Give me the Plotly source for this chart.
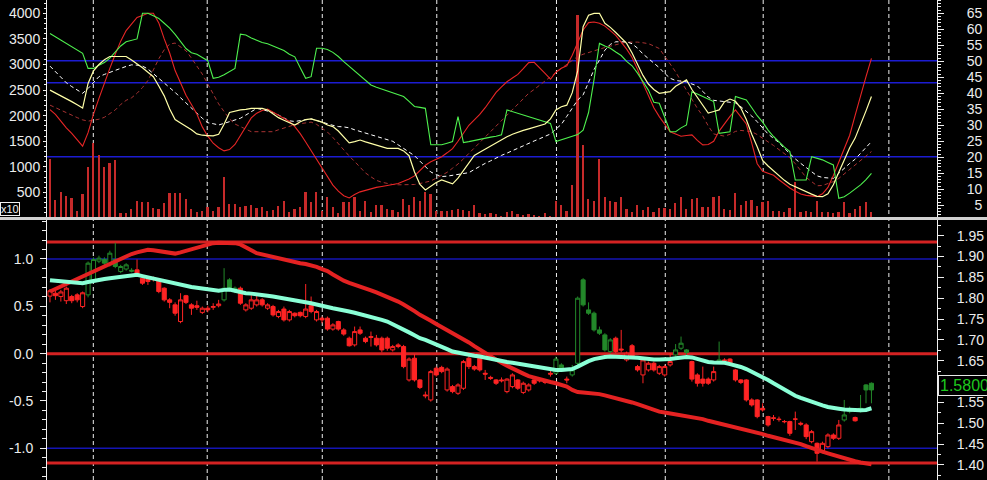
import plotly.graph_objects as go

# ---------------- data ----------------
days = list(range(152))

volume = [1154, 359, 502, 424, 385, 143, 469, 991, 1460, 1239,
          991, 1076, 1134, 104, 104, 176, 339, 306, 306, 196,
          176, 287, 489, 489, 489, 372, 176, 111, 143, 222,
          143, 209, 808, 274, 274, 222, 241, 261, 189, 209,
          143, 156, 241, 339, 111, 176, 209, 502, 306, 515,
          143, 404, 222, 98, 306, 306, 404, 143, 326, 124,
          261, 261, 176, 163, 124, 372, 261, 404, 339, 502,
          469, 143, 143, 130, 156, 176, 163, 143, 261, 91,
          78, 91, 78, 46, 111, 143, 78, 59, 78, 65,
          46, 91, 26, 339, 261, 130, 652, 3967, 1425, 372,
          339, 1145, 404, 339, 306, 404, 176, 111, 261, 156,
          222, 111, 196, 196, 176, 287, 417, 176, 372, 391,
          222, 222, 417, 437, 176, 156, 482, 261, 339, 352,
          241, 306, 326, 143, 143, 111, 196, 700, 111, 143,
          111, 339, 111, 111, 91, 111, 306, 91, 176, 241,
          306, 111]

osc_green = [58.7, 57.7, 56.7, 55.7, 54.6, 53.6, 52.5, 47.8, 47.8, 48.8,
             49.6, 51.0, 53.0, 54.8, 56.1, 56.5, 57.0, 65.0, 65.0, 64.2,
             63.4, 61.9, 60.4, 58.4, 56.0, 54.0, 52.7, 52.2, 51.2, 50.2,
             44.7, 45.0, 45.8, 46.8, 47.8, 58.5, 58.2, 57.3, 56.6, 55.9,
             55.5, 54.8, 54.1, 53.4, 52.2, 51.4, 48.0, 44.7, 45.2, 54.1,
             54.1, 53.7, 52.8, 51.5, 49.9, 48.5, 47.0, 45.5, 44.0, 42.6,
             41.9, 41.3, 40.6, 40.0, 39.6, 39.0, 37.5, 35.9, 35.6, 35.3,
             23.9, 23.9, 23.9, 24.4, 24.9, 32.7, 24.6, 24.9, 25.3, 25.6,
             25.9, 26.3, 26.6, 27.0, 34.8, 34.3, 33.7, 33.2, 32.7, 32.1,
             31.6, 31.1, 30.6, 24.9, 25.4, 26.0, 26.5, 27.1, 28.5, 34.0,
             44.2, 55.6, 54.8, 54.1, 52.9, 51.8, 50.0, 48.6, 46.3, 43.6,
             41.0, 37.2, 36.9, 32.5, 28.0, 28.0, 29.2, 30.1, 40.5, 39.8,
             39.0, 38.2, 37.4, 27.5, 27.8, 28.0, 39.0, 38.4, 37.9, 35.5,
             33.0, 31.0, 28.5, 26.5, 24.8, 23.2, 21.8, 12.9, 12.9, 12.9,
             20.2, 19.8, 19.2, 18.4, 17.6, 7.2, 7.7, 8.8, 10.0, 11.4,
             13.0, 15.0]

osc_yellow = [41.0, 40.1, 39.3, 38.5, 37.4, 36.4, 35.4, 43.1, 47.0, 49.0,
              50.5, 51.5, 51.5, 51.5, 51.5, 50.4, 49.3, 48.0, 46.6, 45.2,
              42.3, 39.2, 35.1, 31.8, 30.7, 29.7, 28.6, 27.3, 26.9, 26.8,
              26.7, 27.2, 30.3, 34.0, 34.5, 34.8, 35.0, 35.3, 35.3, 35.3,
              34.8, 33.6, 32.4, 31.6, 30.8, 30.1, 31.1, 31.8, 32.0, 31.4,
              31.0, 30.1, 29.6, 28.2, 26.2, 24.5, 24.9, 25.4, 24.8, 24.3,
              23.7, 23.2, 22.8, 22.8, 22.8, 22.0, 20.5, 15.4, 11.5, 9.8,
              10.9, 12.1, 12.9, 12.3, 11.7, 13.5, 16.0, 18.3, 20.6, 21.6,
              22.6, 23.6, 24.6, 25.6, 26.4, 27.2, 27.9, 28.4, 28.9, 29.4,
              29.9, 30.4, 32.0, 34.8, 35.8, 36.3, 40.2, 47.0, 60.8, 64.4,
              65.0, 65.0, 61.9, 60.6, 59.0, 57.3, 55.6, 52.6, 48.9, 45.6,
              42.9, 41.2, 40.0, 40.3, 40.5, 42.2, 43.3, 44.2, 41.2, 38.6,
              36.3, 33.8, 34.3, 34.8, 37.4, 38.2, 37.5, 35.4, 31.8, 27.2,
              23.3, 19.0, 17.3, 15.7, 14.2, 12.8, 11.6, 10.8, 9.9, 9.2,
              8.5, 7.8, 7.7, 8.6, 11.4, 15.3, 19.0, 23.0, 26.0, 30.0,
              34.5, 39.0]

osc_white = [48.5, 46.8, 45.1, 43.3, 42.1, 41.0, 40.0, 41.5, 43.5, 45.2,
             45.9, 46.6, 47.3, 47.8, 48.4, 48.9, 48.8, 48.5, 47.6, 46.2,
             44.7, 43.3, 41.8, 40.3, 38.6, 36.9, 35.4, 33.8, 32.2, 30.8,
             30.5, 30.1, 30.6, 31.2, 31.7, 32.2, 33.2, 34.3, 35.3, 34.9,
             34.5, 34.0, 33.2, 32.3, 31.4, 31.2, 31.5, 31.9, 32.0, 31.5,
             30.9, 30.5, 30.0, 29.6, 29.5, 29.2, 28.6, 28.1, 27.6, 27.1,
             26.4, 25.9, 25.5, 25.0, 23.9, 22.8, 21.7, 20.5, 18.8, 17.1,
             15.4, 14.6, 14.0, 14.1, 14.4, 14.7, 14.9, 15.2, 16.2, 17.2,
             18.1, 18.9, 19.8, 20.6, 21.3, 22.1, 22.9, 23.6, 24.4, 25.1,
             25.8, 26.5, 27.3, 28.8, 30.3, 32.8, 35.4, 37.9, 39.5, 43.7,
             47.4, 50.4, 53.5, 55.3, 56.1, 56.1, 56.1, 55.5, 54.1, 52.3,
             50.9, 49.5, 48.0, 46.2, 44.7, 44.0, 43.8, 43.6, 42.9, 42.3,
             40.6, 38.8, 37.8, 37.6, 37.4, 37.2, 37.0, 35.8, 34.4, 32.9,
             31.1, 29.1, 27.3, 25.9, 24.6, 22.8, 21.0, 19.5, 18.1, 16.7,
             15.4, 14.2, 13.7, 13.5, 13.4, 15.0, 16.6, 18.1, 19.4, 21.2,
             23.0, 24.9]

osc_red = [34.9, 33.4, 31.3, 29.2, 27.5, 25.5, 23.5, 27.7, 33.5, 38.4,
           43.4, 47.8, 52.2, 56.3, 59.6, 61.6, 63.7, 64.3, 65.0, 65.0,
           62.0, 57.0, 52.6, 47.1, 43.4, 39.4, 36.5, 33.5, 29.5, 26.6,
           24.4, 23.0, 22.0, 22.4, 24.0, 26.8, 29.7, 32.3, 33.8, 34.6,
           35.1, 34.1, 33.3, 32.3, 31.2, 29.6, 27.4, 24.8, 22.1, 19.3,
           16.4, 13.6, 11.3, 9.4, 8.0, 7.3, 8.4, 9.2, 9.7, 10.2,
           10.6, 10.9, 11.2, 11.4, 11.8, 12.5, 13.2, 14.2, 15.8, 17.5,
           18.6, 19.5, 20.2, 21.4, 22.7, 25.0, 27.6, 30.0, 31.7, 33.4,
           35.5, 38.0, 40.3, 42.0, 43.6, 44.8, 45.9, 47.7, 49.6, 49.7,
           48.1, 46.2, 44.4, 46.6, 47.8, 48.6, 51.9, 55.8, 59.8, 62.1,
           62.3, 61.9, 61.0, 59.6, 58.1, 56.0, 53.8, 51.2, 47.5, 43.1,
           39.3, 35.5, 32.7, 30.4, 28.0, 27.3, 26.6, 26.8, 27.0, 25.3,
           23.9, 24.0, 25.0, 28.2, 30.6, 32.8, 34.8, 32.7, 30.4, 24.4,
           18.0, 15.6, 15.0, 14.4, 13.0, 11.6, 10.4, 9.4, 8.5, 8.1,
           7.8, 7.7, 8.6, 10.6, 14.3, 18.4, 22.6, 26.9, 33.1, 39.6,
           45.2, 50.9]

osc_red_slow = [36.3, 35.5, 34.6, 33.9, 33.1, 32.4, 31.7, 31.3, 31.6, 31.9,
                32.5, 33.6, 34.8, 36.5, 37.8, 38.6, 40.0, 41.8, 44.0, 47.3,
                50.8, 53.6, 55.4, 55.7, 54.6, 53.3, 51.0, 48.6, 46.0, 42.9,
                39.8, 36.7, 34.3, 32.0, 30.4, 29.5, 28.8, 28.0, 28.0, 28.0,
                28.0, 28.0, 28.6, 29.2, 29.8, 30.2, 30.5, 30.7, 31.0, 30.3,
                29.1, 27.9, 26.2, 24.2, 22.1, 20.4, 18.7, 16.9, 15.1, 13.9,
                12.8, 12.2, 11.8, 11.5, 11.4, 11.4, 11.4, 11.5, 11.8, 12.2,
                12.6, 13.5, 14.3, 15.3, 16.6, 17.9, 19.5, 21.2, 23.0, 24.6,
                26.3, 28.0, 29.7, 31.3, 33.1, 34.8, 36.5, 38.3, 40.0, 41.2,
                42.6, 44.0, 45.2, 46.5, 47.8, 49.1, 50.4, 51.5, 52.2, 52.8,
                53.4, 53.8, 54.3, 54.8, 55.3, 55.6, 56.0, 56.1, 56.0, 55.8,
                55.5, 54.8, 54.0, 51.6, 49.3, 46.7, 43.8, 41.0, 38.0, 35.3,
                32.9, 29.8, 27.3, 26.9, 26.6, 27.2, 28.1, 28.4, 28.2, 28.0,
                27.1, 26.0, 24.9, 23.7, 22.4, 21.1, 19.9, 18.0, 15.9, 13.7,
                12.4, 11.1, 11.2, 11.9, 12.4, 13.4, 14.8, 16.0, 17.3, 18.9,
                20.2, 21.8]

opens = [1.805, 1.812, 1.804, 1.794, 1.804, 1.808, 1.780, 1.808, 1.844, 1.889,
         1.893, 1.880, 1.893, 1.864, 1.870, 1.867, 1.868, 1.848, 1.846, 1.848,
         1.844, 1.824, 1.796, 1.784, 1.744, 1.806, 1.784, 1.782, 1.766, 1.776,
         1.778, 1.782, 1.796, 1.844, 1.816, 1.824, 1.772, 1.776, 1.784, 1.796,
         1.776, 1.780, 1.756, 1.774, 1.748, 1.764, 1.766, 1.756, 1.782, 1.748,
         1.752, 1.752, 1.726, 1.744, 1.724, 1.704, 1.688, 1.724, 1.704, 1.708,
         1.704, 1.704, 1.704, 1.676, 1.688, 1.684, 1.604, 1.656, 1.604, 1.568,
         1.556, 1.632, 1.634, 1.580, 1.588, 1.572, 1.584, 1.656, 1.636, 1.656,
         1.620, 1.610, 1.604, 1.604, 1.576, 1.588, 1.604, 1.574, 1.580, 1.604,
         1.604, 1.600, 1.620, 1.620, 1.640, 1.606, 1.616, 1.644, 1.844, 1.772,
         1.764, 1.724, 1.712, 1.672, 1.704, 1.678, 1.652, 1.686, 1.636, 1.616,
         1.628, 1.644, 1.620, 1.616, 1.640, 1.664, 1.680, 1.676, 1.648, 1.616,
         1.606, 1.606, 1.604, 1.646, 1.652, 1.654, 1.628, 1.604, 1.604, 1.556,
         1.556, 1.536, 1.516, 1.513, 1.510, 1.504, 1.504, 1.510, 1.500, 1.496,
         1.456, 1.452, 1.432, 1.444, 1.472, 1.464, 1.508, 1.528, 1.514, 1.528,
         1.592, 1.596]

highs = [1.822, 1.818, 1.820, 1.828, 1.808, 1.812, 1.816, 1.888, 1.898, 1.902,
         1.898, 1.914, 1.933, 1.880, 1.884, 1.872, 1.893, 1.850, 1.848, 1.852,
         1.846, 1.826, 1.800, 1.790, 1.812, 1.808, 1.788, 1.794, 1.780, 1.782,
         1.788, 1.796, 1.872, 1.848, 1.828, 1.828, 1.788, 1.812, 1.812, 1.800,
         1.788, 1.784, 1.772, 1.780, 1.772, 1.766, 1.768, 1.834, 1.804, 1.772,
         1.756, 1.756, 1.740, 1.746, 1.728, 1.708, 1.732, 1.732, 1.708, 1.720,
         1.712, 1.708, 1.708, 1.688, 1.692, 1.688, 1.658, 1.666, 1.606, 1.576,
         1.628, 1.636, 1.638, 1.634, 1.592, 1.596, 1.652, 1.662, 1.640, 1.660,
         1.628, 1.614, 1.606, 1.610, 1.608, 1.620, 1.606, 1.600, 1.596, 1.608,
         1.608, 1.604, 1.626, 1.660, 1.644, 1.612, 1.640, 1.804, 1.848, 1.790,
         1.768, 1.732, 1.716, 1.704, 1.708, 1.724, 1.672, 1.690, 1.640, 1.656,
         1.648, 1.648, 1.640, 1.640, 1.668, 1.690, 1.708, 1.678, 1.650, 1.620,
         1.636, 1.610, 1.636, 1.696, 1.656, 1.656, 1.630, 1.606, 1.606, 1.560,
         1.558, 1.548, 1.518, 1.520, 1.516, 1.508, 1.506, 1.528, 1.504, 1.500,
         1.484, 1.454, 1.456, 1.476, 1.476, 1.508, 1.556, 1.540, 1.516, 1.568,
         1.594, 1.598]

lows = [1.790, 1.796, 1.792, 1.786, 1.788, 1.790, 1.776, 1.802, 1.840, 1.884,
        1.878, 1.876, 1.872, 1.860, 1.866, 1.862, 1.855, 1.832, 1.832, 1.840,
        1.812, 1.792, 1.776, 1.758, 1.740, 1.786, 1.760, 1.772, 1.762, 1.766,
        1.772, 1.778, 1.792, 1.816, 1.812, 1.784, 1.768, 1.772, 1.780, 1.780,
        1.772, 1.756, 1.752, 1.744, 1.744, 1.754, 1.754, 1.752, 1.764, 1.744,
        1.740, 1.722, 1.722, 1.722, 1.710, 1.684, 1.684, 1.712, 1.692, 1.684,
        1.684, 1.670, 1.674, 1.672, 1.680, 1.632, 1.600, 1.600, 1.582, 1.560,
        1.552, 1.612, 1.620, 1.576, 1.572, 1.568, 1.580, 1.630, 1.626, 1.624,
        1.604, 1.604, 1.592, 1.598, 1.572, 1.584, 1.580, 1.570, 1.576, 1.592,
        1.598, 1.594, 1.612, 1.616, 1.624, 1.596, 1.612, 1.640, 1.780, 1.760,
        1.720, 1.712, 1.672, 1.668, 1.668, 1.670, 1.648, 1.656, 1.624, 1.596,
        1.624, 1.624, 1.616, 1.612, 1.636, 1.660, 1.676, 1.664, 1.600, 1.588,
        1.588, 1.592, 1.600, 1.644, 1.646, 1.640, 1.600, 1.594, 1.552, 1.540,
        1.512, 1.528, 1.492, 1.506, 1.504, 1.500, 1.470, 1.484, 1.494, 1.462,
        1.452, 1.408, 1.428, 1.440, 1.460, 1.460, 1.504, 1.524, 1.504, 1.526,
        1.548, 1.548]

closes = [1.818, 1.806, 1.815, 1.824, 1.794, 1.796, 1.813, 1.884, 1.893, 1.896,
          1.884, 1.908, 1.876, 1.876, 1.880, 1.865, 1.858, 1.836, 1.840, 1.846,
          1.816, 1.796, 1.790, 1.764, 1.796, 1.790, 1.776, 1.778, 1.776, 1.772,
          1.780, 1.786, 1.824, 1.820, 1.824, 1.788, 1.784, 1.796, 1.796, 1.784,
          1.784, 1.760, 1.768, 1.748, 1.768, 1.758, 1.758, 1.774, 1.768, 1.768,
          1.748, 1.726, 1.736, 1.726, 1.714, 1.686, 1.720, 1.716, 1.696, 1.706,
          1.688, 1.676, 1.680, 1.684, 1.684, 1.636, 1.654, 1.604, 1.586, 1.566,
          1.624, 1.616, 1.624, 1.630, 1.576, 1.592, 1.648, 1.636, 1.630, 1.628,
          1.618, 1.608, 1.596, 1.602, 1.606, 1.616, 1.584, 1.596, 1.592, 1.596,
          1.602, 1.598, 1.618, 1.654, 1.628, 1.604, 1.628, 1.800, 1.784, 1.764,
          1.724, 1.716, 1.676, 1.700, 1.672, 1.676, 1.668, 1.660, 1.628, 1.652,
          1.644, 1.628, 1.636, 1.636, 1.648, 1.676, 1.692, 1.670, 1.606, 1.596,
          1.596, 1.596, 1.624, 1.652, 1.650, 1.644, 1.604, 1.598, 1.556, 1.544,
          1.516, 1.532, 1.496, 1.512, 1.509, 1.504, 1.476, 1.510, 1.498, 1.468,
          1.480, 1.428, 1.452, 1.472, 1.464, 1.496, 1.520, 1.532, 1.506, 1.536,
          1.580, 1.580]

# candle tone per day as drawn: r = red, g = green
candle_tone = ("rrrrrrrggggggggg"
               "rrrrrrrrrrrrrrrrggg"
               "rrrrrrrrrrrrrrrrrrrrrrrrrrrrrrrrrrrrrrrrrrrrrrrrrrrrrrrrrr"
               "ggrgggggggg"
               "rrrrrrrrrrrggg"
               "rrrrrg"
               "rrrrrrrrrrrrrrrrrrrrrr"
               "ggrggg")

ma_fast = [1.843, 1.842, 1.841, 1.839, 1.838, 1.837, 1.836, 1.839, 1.842, 1.844,
           1.846, 1.848, 1.850, 1.852, 1.854, 1.856, 1.856, 1.853, 1.850, 1.848,
           1.845, 1.841, 1.837, 1.835, 1.832, 1.830, 1.827, 1.825, 1.823, 1.820,
           1.818, 1.818, 1.820, 1.821, 1.818, 1.814, 1.812, 1.811, 1.810, 1.808,
           1.806, 1.804, 1.802, 1.800, 1.798, 1.795, 1.792, 1.790, 1.788, 1.785,
           1.781, 1.779, 1.776, 1.774, 1.771, 1.768, 1.765, 1.762, 1.758, 1.755,
           1.752, 1.748, 1.744, 1.738, 1.731, 1.725, 1.718, 1.711, 1.704, 1.700,
           1.695, 1.690, 1.684, 1.678, 1.672, 1.669, 1.667, 1.665, 1.662, 1.660,
           1.657, 1.654, 1.652, 1.650, 1.647, 1.645, 1.643, 1.641, 1.639, 1.637,
           1.634, 1.631, 1.629, 1.628, 1.628, 1.628, 1.630, 1.636, 1.643, 1.649,
           1.654, 1.657, 1.659, 1.660, 1.660, 1.659, 1.659, 1.658, 1.657, 1.655,
           1.654, 1.653, 1.653, 1.653, 1.654, 1.656, 1.658, 1.659, 1.658, 1.654,
           1.650, 1.647, 1.646, 1.646, 1.645, 1.642, 1.639, 1.635, 1.630, 1.624,
           1.616, 1.610, 1.604, 1.596, 1.588, 1.580, 1.572, 1.566, 1.561, 1.556,
           1.551, 1.547, 1.543, 1.539, 1.536, 1.535, 1.533, 1.532, 1.531, 1.531,
           1.532, 1.536]

ma_slow = [1.816, 1.822, 1.828, 1.834, 1.840, 1.846, 1.851, 1.858, 1.864, 1.870,
           1.876, 1.883, 1.889, 1.895, 1.901, 1.906, 1.910, 1.913, 1.916, 1.915,
           1.913, 1.911, 1.909, 1.907, 1.910, 1.914, 1.918, 1.922, 1.926, 1.930,
           1.932, 1.933, 1.933, 1.933, 1.932, 1.929, 1.923, 1.915, 1.908, 1.905,
           1.901, 1.897, 1.894, 1.891, 1.889, 1.886, 1.884, 1.882, 1.879, 1.875,
           1.870, 1.865, 1.857, 1.849, 1.842, 1.837, 1.833, 1.829, 1.824, 1.819,
           1.814, 1.809, 1.804, 1.799, 1.792, 1.785, 1.778, 1.769, 1.760, 1.754,
           1.746, 1.738, 1.731, 1.724, 1.717, 1.710, 1.703, 1.694, 1.685, 1.677,
           1.668, 1.659, 1.652, 1.645, 1.638, 1.631, 1.625, 1.619, 1.613, 1.609,
           1.606, 1.602, 1.599, 1.596, 1.593, 1.588, 1.580, 1.575, 1.574, 1.573,
           1.572, 1.570, 1.567, 1.564, 1.561, 1.558, 1.554, 1.550, 1.546, 1.541,
           1.536, 1.532, 1.528, 1.526, 1.524, 1.522, 1.520, 1.518, 1.516, 1.513,
           1.510, 1.506, 1.503, 1.500, 1.496, 1.493, 1.490, 1.486, 1.483, 1.480,
           1.477, 1.474, 1.470, 1.467, 1.464, 1.461, 1.458, 1.454, 1.450, 1.445,
           1.440, 1.436, 1.432, 1.428, 1.424, 1.419, 1.415, 1.412, 1.409, 1.406,
           1.404, 1.402]

month_starts = [7.96, 28.9, 50.05, 71.1, 93.1, 113.1, 131.1, 154.2]

vol_ticks = [500, 1000, 1500, 2000, 2500, 3000, 3500, 4000]
osc_ticks = [5, 10, 15, 20, 25, 30, 35, 40, 45, 50, 55, 60, 65]
osc_levels = [50.2, 43.3, 20.2]
pct_ticks = [-1.0, -0.5, 0.0, 0.5, 1.0]
pct_red_levels = [1.18, 0.0, -1.155]
pct_blue_levels = [1.0, -1.0]
price_ticks = [1.40, 1.45, 1.50, 1.55, 1.60, 1.65, 1.70, 1.75, 1.80, 1.85, 1.90, 1.95]
last_price = 1.58

# ---------------- figure ----------------
X_RANGE = [-0.55, 163.05]
AXIS_FONT = dict(family="Liberation Sans, Arial, sans-serif", size=14, color="#ececec")

fig = go.Figure()

# volume bars (top panel, left axis)
fig.add_trace(go.Bar(x=days, y=volume, width=0.32,
                     marker=dict(color="#c62a2a", line=dict(width=0)),
                     xaxis="x", yaxis="y", hoverinfo="skip", showlegend=False))

# oscillator lines (top panel, right axis)
for series, color, dash, w in [
        (osc_red_slow, "#a83232", "4px,3px", 1.0),
        (osc_white, "#ffffff", "4px,3px", 1.0),
        (osc_red, "#e82626", "solid", 1.1),
        (osc_green, "#4ef04e", "solid", 1.1),
        (osc_yellow, "#ffffa8", "solid", 1.2)]:
    fig.add_trace(go.Scatter(x=days, y=series, mode="lines",
                             line=dict(color=color, width=w, dash=dash),
                             xaxis="x", yaxis="y2", hoverinfo="skip", showlegend=False))

# candles (bottom panel, right price axis)
for tone, col in (("r", "#ff2424"), ("g", "#23882a")):
    idx = [i for i in days if candle_tone[i] == tone]
    fig.add_trace(go.Candlestick(
        x=idx,
        open=[opens[i] for i in idx], high=[highs[i] for i in idx],
        low=[lows[i] for i in idx], close=[closes[i] for i in idx],
        increasing=dict(line=dict(color=col, width=1), fillcolor="black"),
        decreasing=dict(line=dict(color=col, width=1), fillcolor=col),
        whiskerwidth=0, xaxis="x2", yaxis="y4", hoverinfo="skip", showlegend=False))

fig.add_trace(go.Scatter(x=days, y=ma_slow, mode="lines",
                         line=dict(color="#e42222", width=4),
                         xaxis="x2", yaxis="y4", hoverinfo="skip", showlegend=False))
fig.add_trace(go.Scatter(x=days, y=ma_fast, mode="lines",
                         line=dict(color="#8affd6", width=4),
                         xaxis="x2", yaxis="y4", hoverinfo="skip", showlegend=False))

shapes = []
for m in month_starts:
    shapes.append(dict(type="line", xref="x", yref="paper", x0=m, x1=m, y0=0, y1=1,
                       line=dict(color="#f0f0f0", width=1, dash="4px,3px"), layer="below"))
for lv in osc_levels:
    shapes.append(dict(type="line", xref="paper", yref="y2", x0=0, x1=1, y0=lv, y1=lv,
                       line=dict(color="#1c1cd2", width=1.5), layer="below"))
for lv in pct_blue_levels:
    shapes.append(dict(type="line", xref="paper", yref="y3", x0=0, x1=1, y0=lv, y1=lv,
                       line=dict(color="#1414b4", width=1.5), layer="below"))
for lv in pct_red_levels:
    shapes.append(dict(type="line", xref="paper", yref="y3", x0=0, x1=1, y0=lv, y1=lv,
                       line=dict(color="#d42222", width=3), layer="below"))
# panel separator
shapes.append(dict(type="line", xref="paper", yref="paper", x0=-0.1, x1=1.1,
                   y0=0.5448, y1=0.5448, line=dict(color="#d0d0d0", width=3)))

axis_common = dict(showgrid=False, zeroline=False, showline=True, linecolor="#f0f0f0",
                   linewidth=1, ticks="outside", tickcolor="#f0f0f0", tickfont=AXIS_FONT)

fig.update_layout(
    width=987, height=480,
    margin=dict(l=47, r=50, t=0, b=0, pad=0),
    paper_bgcolor="black", plot_bgcolor="black",
    showlegend=False, bargap=0, boxgap=0.25, boxgroupgap=0,
    font=AXIS_FONT,
    shapes=shapes,
    xaxis=dict(domain=[0, 1], anchor="y", range=X_RANGE, visible=False,
               rangeslider=dict(visible=False)),
    xaxis2=dict(domain=[0, 1], anchor="y3", range=X_RANGE, visible=False,
                rangeslider=dict(visible=False)),
    yaxis=dict(domain=[0.5479, 1], anchor="x", side="left", range=[18, 4260],
               tickvals=vol_ticks, ticktext=[str(v) for v in vol_ticks], ticklen=3,
               ticklabelstandoff=0,
               minor=dict(dtick=100, ticklen=2, ticks="outside", tickcolor="#f0f0f0"),
               **axis_common),
    yaxis2=dict(overlaying="y", anchor="x", side="right", range=[1.34, 69.16],
                tickvals=osc_ticks,
                ticktext=[f"{v:>2d}".replace(" ", "\u2007") for v in osc_ticks],
                ticklen=6, ticklabelstandoff=20,
                minor=dict(dtick=1, ticklen=3, ticks="outside", tickcolor="#f0f0f0"),
                **axis_common),
    yaxis3=dict(domain=[0, 0.5417], anchor="x2", side="left", range=[-1.335, 1.412],
                tickvals=pct_ticks, ticktext=[f"{v:.1f}" for v in pct_ticks],
                ticklen=6, ticklabelstandoff=4,
                minor=dict(dtick=0.1, ticklen=4, ticks="outside", tickcolor="#f0f0f0"),
                **axis_common),
    yaxis4=dict(overlaying="y3", anchor="x2", side="right", range=[1.364, 1.9876],
                tickvals=price_ticks, ticktext=[f"{v:.2f}" for v in price_ticks],
                ticklen=6, ticklabelstandoff=10,
                minor=dict(dtick=0.025, tick0=1.4, ticklen=3, ticks="outside",
                           tickcolor="#f0f0f0"),
                **axis_common),
    annotations=[
        dict(text=f"{last_price:.4f}", xref="paper", yref="y4", x=1, y=last_price,
             xanchor="left", yanchor="middle", xshift=1, yshift=4, showarrow=False,
             font=dict(family="Liberation Sans, Arial, sans-serif", size=16, color="#1ec81e"),
             bgcolor="black", bordercolor="#e8e8e8", borderwidth=1, borderpad=1),
        dict(text="x10", xref="paper", yref="paper", x=-47 / 890, y=(480 - 209.5) / 480,
             xanchor="left", yanchor="middle", showarrow=False,
             font=dict(family="Liberation Sans, Arial, sans-serif", size=11, color="#f0f0f0"),
             bgcolor="black", bordercolor="#f0f0f0", borderwidth=1, borderpad=0),
    ],
)

fig.write_html("out.html",
               config={"displayModeBar": False},
               post_script="document.body.style.margin='0';"
                           "document.body.style.overflow='hidden';")
